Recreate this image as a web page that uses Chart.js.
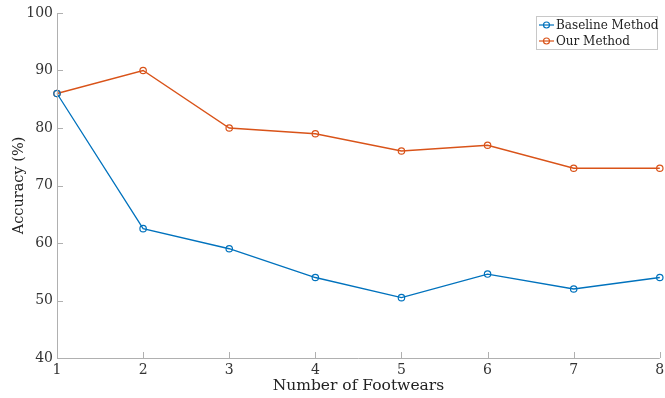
<!DOCTYPE html>
<html>
<head>
<meta charset="utf-8">
<script src="https://cdn.jsdelivr.net/npm/chart.js@4/dist/chart.umd.min.js"></script>
<style>
  html, body { margin: 0; padding: 0; background: #fff; }
  #wrap { width: 665px; height: 398px; }
</style>
</head>
<body>
<div id="wrap"><canvas id="chart" width="665" height="398"></canvas></div>
<script>
var footwears = [1, 2, 3, 4, 5, 6, 7, 8];
var baseline = [86, 62.5, 59, 54, 50.5, 54.6, 52, 54];
var ours = [86, 90, 80, 79, 76, 77, 73, 73];
var yTicks = [40, 50, 60, 70, 80, 90, 100];

var FONT = "'DejaVu Serif', serif";
var AXIS = '#b0b0b0';
var BLUE = '#0072BD';
var ORANGE = '#D95319';

// inward tick marks, the two axis lines and the legend box
var axisPlugin = {
  id: 'axisPlugin',
  afterDraw: function (chart) {
    var ctx = chart.ctx, a = chart.chartArea;
    var xs = chart.scales.x, ys = chart.scales.y;
    ctx.save();
    ctx.strokeStyle = AXIS;
    ctx.lineWidth = 1;
    ctx.beginPath();
    ctx.moveTo(a.left + 0.5, a.top);
    ctx.lineTo(a.left + 0.5, a.bottom + 0.5);
    ctx.lineTo(a.right, a.bottom + 0.5);
    yTicks.forEach(function (v) {
      var py = Math.round(ys.getPixelForValue(v)) + 0.5;
      ctx.moveTo(a.left, py);
      ctx.lineTo(a.left + 6, py);
    });
    footwears.forEach(function (v, i) {
      var px = Math.round(xs.getPixelForValue(i)) + 0.5;
      ctx.moveTo(px, a.bottom);
      ctx.lineTo(px, a.bottom - 6);
    });
    ctx.stroke();

    var lx = 536, ly = 16, lw = 121, lh = 33;
    ctx.fillStyle = '#fff';
    ctx.fillRect(lx, ly, lw, lh);
    ctx.strokeStyle = '#c8c8c8';
    ctx.strokeRect(lx + 0.5, ly + 0.5, lw, lh);
    ctx.font = '12px ' + FONT;
    ctx.textBaseline = 'middle';
    chart.data.datasets.forEach(function (ds, i) {
      var cy = ly + 9 + i * 16;
      ctx.strokeStyle = ds.borderColor;
      ctx.lineWidth = 1.2;
      ctx.beginPath();
      ctx.moveTo(lx + 3, cy);
      ctx.lineTo(lx + 18, cy);
      ctx.stroke();
      ctx.beginPath();
      ctx.arc(lx + 10.5, cy, 3, 0, Math.PI * 2);
      ctx.stroke();
      ctx.fillStyle = '#222';
      ctx.fillText(ds.label, lx + 20, cy + 1);
    });
    ctx.restore();
  }
};

new Chart(document.getElementById('chart'), {
  type: 'line',
  data: {
    labels: footwears,
    datasets: [
      {
        label: 'Baseline Method',
        data: baseline,
        borderColor: BLUE,
        backgroundColor: 'rgba(0,0,0,0)',
        borderWidth: 1.3,
        pointRadius: 3.2,
        pointBorderWidth: 1.2,
        pointBackgroundColor: 'rgba(0,0,0,0)',
        tension: 0
      },
      {
        label: 'Our Method',
        data: ours,
        borderColor: ORANGE,
        backgroundColor: 'rgba(0,0,0,0)',
        borderWidth: 1.3,
        pointRadius: 3.2,
        pointBorderWidth: 1.2,
        pointBackgroundColor: 'rgba(0,0,0,0)',
        tension: 0
      }
    ]
  },
  options: {
    responsive: false,
    animation: false,
    layout: { padding: { left: 0, right: 5, top: 13, bottom: 0 } },
    plugins: {
      legend: { display: false },
      tooltip: { enabled: false }
    },
    scales: {
      x: {
        type: 'category',
        offset: false,
        grid: { display: false, drawTicks: false },
        border: { display: false },
        ticks: { color: '#333', font: { family: FONT, size: 14 }, padding: 4, maxRotation: 0 },
        title: { display: true, text: 'Number of Footwears', color: '#222', font: { family: FONT, size: 15.5 }, padding: { top: 0, bottom: 3 } },
        afterFit: function (s) { s.height = 40; s.paddingLeft = 0; s.paddingRight = 0; }
      },
      y: {
        min: 40,
        max: 100,
        afterBuildTicks: function (s) { s.ticks = yTicks.map(function (v) { return { value: v }; }); },
        grid: { display: false, drawTicks: false },
        border: { display: false },
        ticks: { color: '#333', font: { family: FONT, size: 14 }, padding: 4 },
        title: { display: true, text: 'Accuracy (%)', color: '#222', font: { family: FONT, size: 14.5 }, padding: { top: 11, bottom: 0 } },
        afterFit: function (s) { s.width = 57; s.paddingTop = 0; s.paddingBottom = 0; }
      }
    }
  },
  plugins: [axisPlugin]
});
</script>
</body>
</html>
